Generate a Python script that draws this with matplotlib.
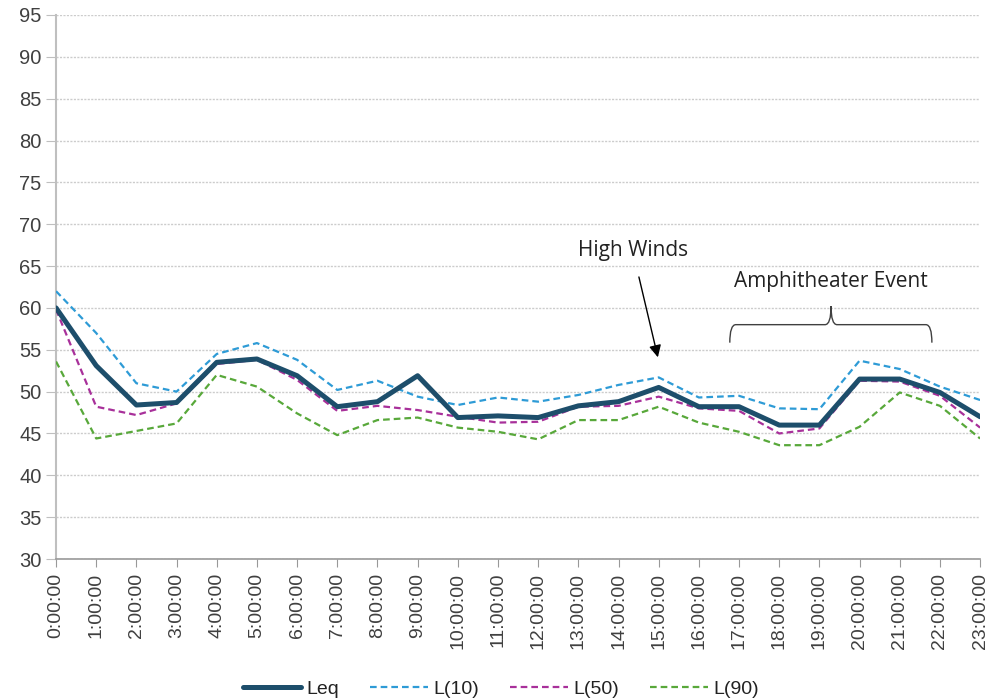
import numpy as np
import matplotlib.pyplot as plt
from matplotlib.path import Path
from matplotlib.patches import PathPatch

plt.rcParams['font.family'] = ['Liberation Sans', 'DejaVu Sans']

hours = ["%d:00:00" % h for h in range(24)]
leq = [60.0, 53.1, 48.4, 48.7, 53.5, 53.9, 51.9, 48.2, 48.8, 51.9, 46.9, 47.1,
       46.9, 48.3, 48.8, 50.5, 48.2, 48.2, 46.0, 46.0, 51.5, 51.5, 49.9, 47.0]
l10 = [62.0, 57.0, 51.0, 50.0, 54.5, 55.8, 53.8, 50.2, 51.3, 49.4, 48.4, 49.3,
       48.8, 49.6, 50.8, 51.7, 49.3, 49.5, 48.0, 47.9, 53.7, 52.7, 50.6, 49.0]
l50 = [59.8, 48.2, 47.2, 48.6, 53.3, 53.8, 51.4, 47.7, 48.3, 47.8, 47.0, 46.3,
       46.4, 48.2, 48.3, 49.4, 48.0, 47.7, 45.0, 45.6, 51.3, 51.2, 49.5, 45.7]
l90 = [53.6, 44.4, 45.3, 46.2, 52.0, 50.6, 47.4, 44.8, 46.6, 46.9, 45.7, 45.2,
       44.3, 46.6, 46.6, 48.2, 46.3, 45.2, 43.6, 43.6, 45.8, 49.9, 48.3, 44.4]

x = np.arange(len(hours))

fig = plt.figure(figsize=(9.92, 7.0), dpi=100)
ax = fig.add_axes([0.0565, 0.2014, 0.9315, 0.7772])

ax.plot(x, leq, color='#1d4e6b', lw=3.6, label='Leq', solid_capstyle='round', zorder=5)
ax.plot(x, l10, color='#2e9bd6', lw=1.6, ls=(0, (3, 1.8)), label='L(10)', zorder=4)
ax.plot(x, l50, color='#a8309a', lw=1.6, ls=(0, (3, 1.8)), label='L(50)', zorder=4)
ax.plot(x, l90, color='#58a83a', lw=1.6, ls=(0, (3, 1.8)), label='L(90)', zorder=3)

ax.set_xlim(0, 23)
ax.set_ylim(30, 95)
ax.set_yticks(np.arange(30, 96, 5))
ax.set_xticks(x)
ax.set_xticklabels(hours, rotation=90, fontsize=14, color='#404040')
ax.tick_params(axis='y', labelsize=14.5, labelcolor='#404040', length=7, color='#bfbfbf')
ax.tick_params(axis='x', length=6, color='#999999', pad=4)
ax.grid(axis='y', color='#cccccc', ls=(0, (1.5, 1)), lw=1)
ax.set_axisbelow(True)
for s in ['top', 'right']:
    ax.spines[s].set_visible(False)
ax.spines['left'].set_color('#bfbfbf')
ax.spines['left'].set_linewidth(1.5)
ax.spines['bottom'].set_color('#999999')
ax.spines['bottom'].set_linewidth(1.2)

# annotations
ax.annotate('High Winds', xy=(14.98, 54.1), xytext=(14.35, 66.9),
            ha='center', va='center', fontsize=15, family=['Open Sans', 'DejaVu Sans'], color='#222222',
            arrowprops=dict(arrowstyle='-|>', color='black', lw=1, mutation_scale=18,
                            shrinkA=10, shrinkB=0))
ax.text(19.29, 63.1, 'Amphitheater Event', ha='center', va='center', fontsize=15,
        family=['Open Sans', 'DejaVu Sans'], color='#222222')

bl, br, bm = 16.77, 21.8, 19.29
yb, yh, yt = 55.85, 58.0, 60.2
verts = [(bl, yb), (bl, yh), (bl + 0.15, yh),
         (bm - 0.15, yh), (bm, yh), (bm, yt),
         (bm, yt), (bm, yh), (bm + 0.15, yh),
         (br - 0.15, yh), (br, yh), (br, yb)]
codes = [Path.MOVETO, Path.CURVE3, Path.CURVE3,
         Path.LINETO, Path.CURVE3, Path.CURVE3,
         Path.MOVETO, Path.CURVE3, Path.CURVE3,
         Path.LINETO, Path.CURVE3, Path.CURVE3]
ax.add_patch(PathPatch(Path(verts, codes), fill=False, color='#404040', lw=1))

leg = fig.legend(loc='lower center', bbox_to_anchor=(0.505, -0.022), ncol=4, frameon=False,
                 fontsize=14, handlelength=3.0, columnspacing=1.6, handletextpad=0.25)
for t in leg.get_texts():
    t.set_color('#222222')

fig.savefig('out.png', dpi=100)
